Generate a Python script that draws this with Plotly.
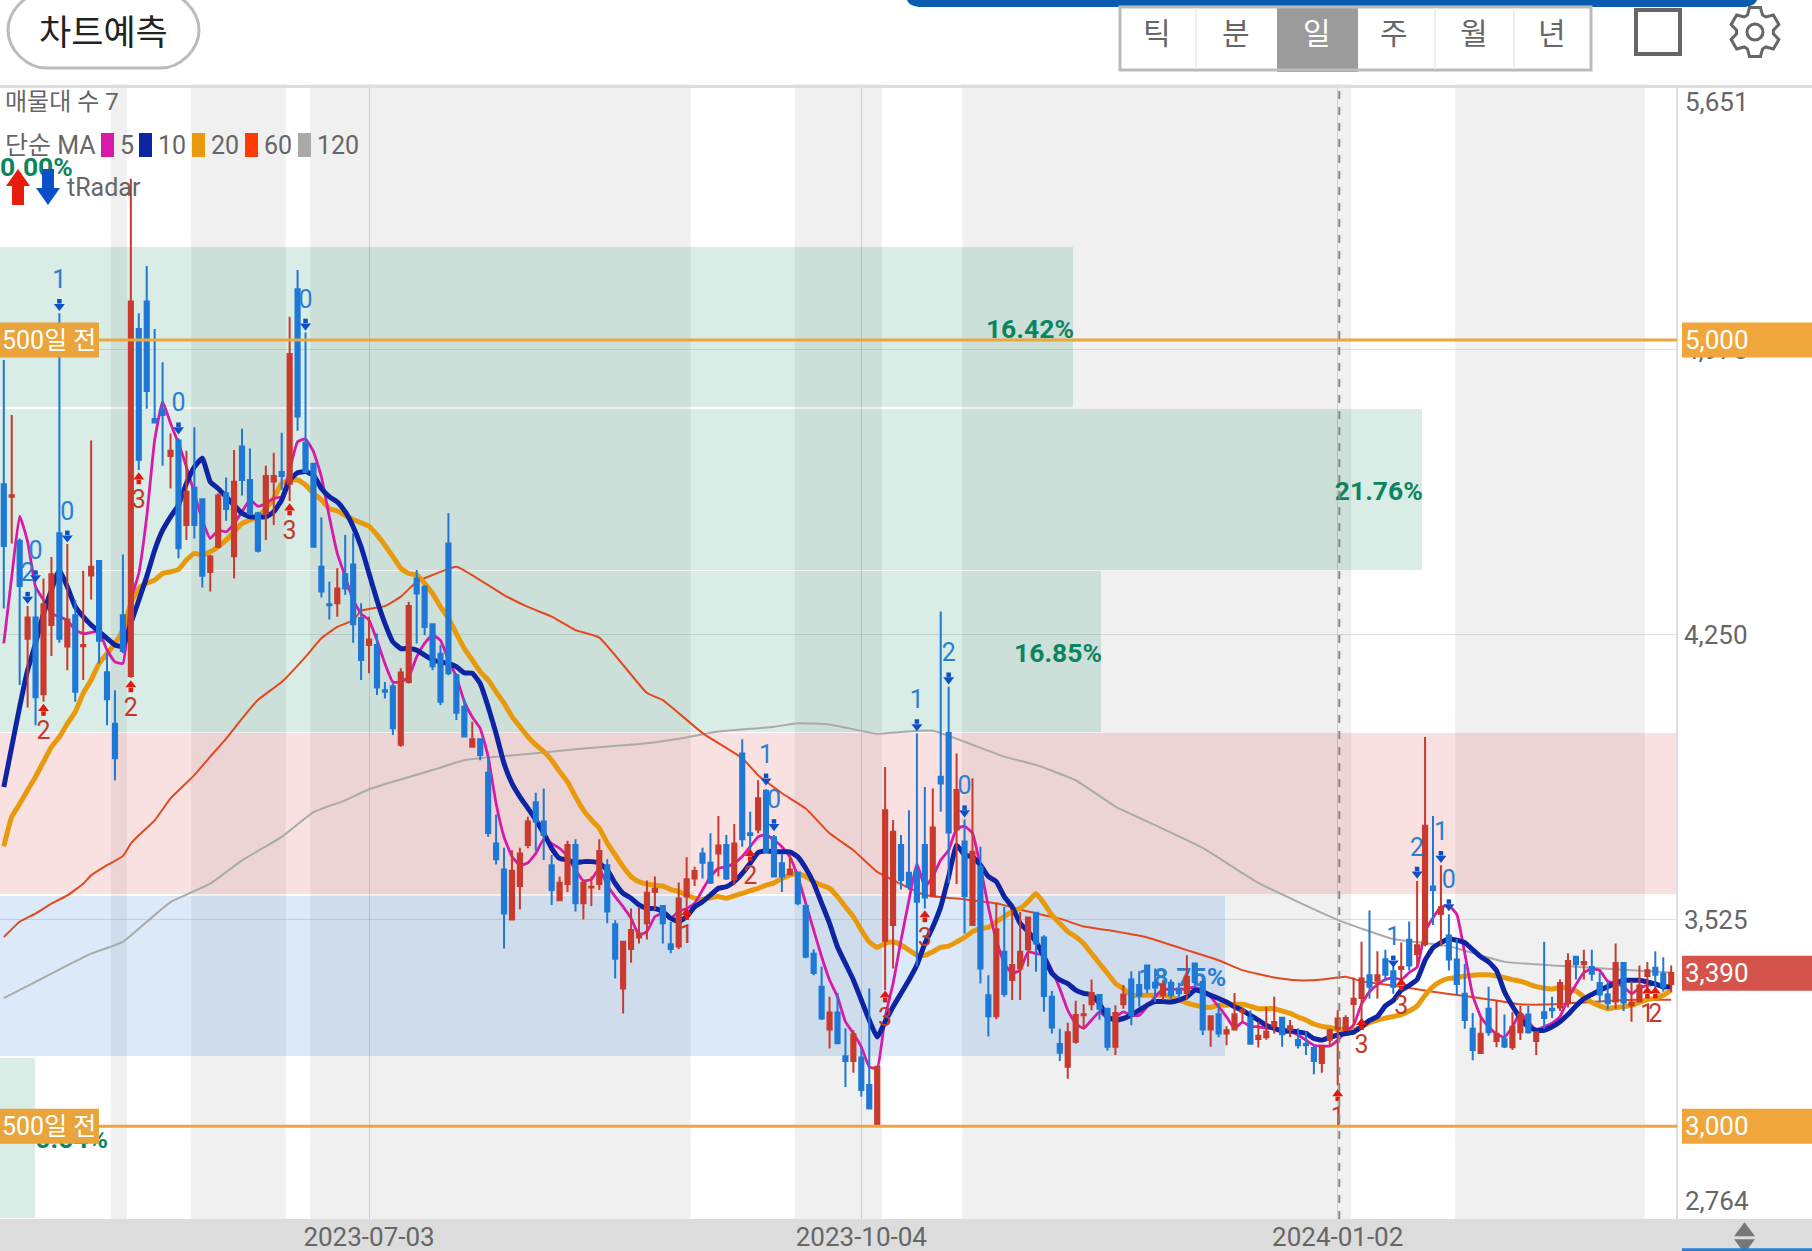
import math
import plotly.graph_objects as go

OPEN = [4633,4601,4489,4240,4294,4099,4275,4508,4220,4300,
4221,4401,4438,4155,4024,4300,4145,5028,5098,4799,
4823,4705,4744,4529,4624,4595,4410,4474,4610,4450,
4729,4644,4559,4559,4640,4664,4634,5129,4739,4685,
4423,4328,4330,4404,4429,4293,4224,4224,4109,4119,
3970,4130,4393,4372,4277,4202,4482,4147,4067,3965,
3984,3899,3719,3653,3526,3611,3715,3824,3775,3664,
3575,3616,3715,3567,3607,3616,3664,3514,3350,3451,
3480,3516,3596,3560,3463,3457,3584,3630,3694,3670,
3694,3715,3628,3948,3745,3755,3853,3735,3669,3641,
3645,3560,3439,3355,3246,3289,3178,3166,3175,3105,
3005,3472,3512,3715,3645,3652,3715,3585,3889,4000,
3755,3724,3512,3660,3333,3280,3444,3372,3401,3450,
3543,3480,3329,3209,3151,3215,3282,3310,3334,3299,
3202,3310,3373,3359,3409,3365,3333,3365,3350,3339,
3414,3367,3246,3285,3236,3246,3291,3276,3222,3226,
3254,3276,3246,3219,3209,3199,3161,3220,3248,3245,
3311,3326,3384,3370,3425,3394,3400,3474,3438,3463,
3610,3540,3485,3424,3337,3248,3186,3299,3217,3221,
3201,3239,3284,3217,3290,3299,3302,3315,3431,3412,
3405,3364,3335,3317,3415,3308,3317,3382,3403,3388,3362]
HIGH = [4949,4809,4495,4323,4372,4393,4448,5068,4481,4338,
4413,4744,4440,4203,4109,4454,5410,5068,5188,5028,
4943,4762,4750,4718,4778,4597,4453,4610,4650,4720,
4774,4724,4563,4680,4713,4764,5059,5178,5019,4686,
4549,4385,4419,4504,4508,4330,4296,4253,4130,4126,
4165,4334,4415,4376,4277,4224,4559,4152,4088,4029,
3986,3940,3793,3708,3702,3708,3787,3848,3859,3690,
3635,3726,3730,3626,3635,3730,3679,3524,3470,3554,
3558,3625,3635,3563,3520,3620,3684,3660,3708,3745,
3789,3741,3769,3984,3800,3880,3857,3741,3694,3690,
3647,3567,3450,3406,3329,3339,3249,3244,3202,3350,
3151,3914,3779,3741,3804,3999,3863,3859,4309,4118,
3948,3780,3885,3711,3384,3567,3558,3550,3545,3533,
3545,3486,3344,3248,3263,3319,3310,3373,3336,3301,
3308,3359,3394,3394,3409,3401,3371,3373,3365,3435,
3414,3373,3280,3312,3254,3339,3302,3295,3265,3304,
3329,3278,3270,3249,3240,3206,3206,3248,3295,3282,
3378,3469,3549,3445,3449,3413,3467,3521,3624,3990,
3789,3664,3539,3476,3413,3288,3279,3355,3320,3284,
3290,3306,3306,3239,3469,3329,3373,3440,3433,3449,
3449,3391,3369,3465,3418,3369,3409,3418,3445,3430,3409]
LOW = [4317,4482,4122,4065,4020,4080,4196,4230,4160,4080,
4135,4340,4177,4020,3880,4203,4141,4669,4825,4788,
4680,4622,4445,4491,4495,4370,4360,4470,4540,4393,
4604,4555,4459,4491,4529,4618,4590,4769,4661,4474,
4345,4289,4296,4351,4230,4135,4152,4097,4088,3995,
3965,4126,4228,4249,4160,4071,4147,4033,3989,3963,
3931,3736,3666,3452,3526,3551,3707,3701,3677,3563,
3575,3596,3546,3526,3560,3601,3516,3376,3287,3416,
3465,3475,3550,3465,3440,3450,3558,3611,3630,3616,
3635,3626,3613,3711,3694,3745,3694,3633,3596,3640,
3562,3427,3384,3270,3198,3211,3100,3136,3075,3045,
3005,3346,3401,3602,3601,3406,3554,3585,3800,3618,
3616,3490,3512,3363,3228,3272,3329,3321,3321,3406,
3393,3291,3236,3166,3121,3210,3248,3295,3271,3192,
3181,3299,3257,3304,3338,3316,3321,3325,3325,3321,
3354,3232,3202,3226,3206,3246,3265,3210,3200,3220,
3236,3202,3226,3198,3181,3132,3136,3202,3104,3243,
3257,3262,3324,3324,3369,3337,3369,3396,3409,3458,
3512,3458,3396,3333,3248,3168,3186,3230,3201,3199,
3194,3219,3235,3181,3248,3275,3293,3302,3373,3373,
3370,3315,3297,3299,3293,3266,3315,3346,3346,3342,3342]
CLOSE = [4476,4605,4374,4294,4091,4328,4404,4240,4289,4105,
4224,4423,4235,4086,3936,4209,5098,4695,4870,4790,
4809,4718,4470,4614,4529,4400,4449,4604,4570,4639,
4644,4559,4464,4654,4654,4654,4964,4805,4665,4474,
4360,4325,4368,4368,4277,4186,4238,4116,4105,4012,
4154,4323,4355,4270,4170,4080,4152,4052,3991,3984,
3944,3746,3679,3541,3650,3694,3775,3775,3741,3601,
3619,3715,3567,3619,3609,3700,3546,3426,3469,3499,
3490,3594,3604,3516,3451,3579,3628,3649,3670,3619,
3714,3630,3719,3730,3741,3834,3698,3635,3635,3653,
3567,3431,3390,3274,3289,3211,3166,3234,3092,3045,
3151,3804,3749,3626,3609,3571,3582,3760,3872,3747,
3855,3585,3698,3401,3280,3501,3336,3410,3444,3531,
3465,3331,3251,3187,3239,3283,3285,3339,3299,3202,
3288,3335,3282,3332,3350,3353,3359,3333,3338,3380,
3367,3246,3280,3236,3244,3285,3295,3210,3230,3240,
3265,3234,3254,3206,3206,3166,3204,3244,3274,3275,
3324,3376,3355,3384,3385,3355,3405,3409,3460,3764,
3601,3557,3424,3362,3270,3194,3235,3239,3235,3203,
3253,3284,3239,3239,3275,3295,3364,3420,3412,3418,
3388,3335,3313,3415,3315,3315,3358,3397,3385,3355,3390]

MA5 = [4228,4398,4552,4487,4372,4338,4304,4296,4287,4262,
4253,4256,4258,4211,4181,4177,4338,4406,4550,4745,
4843,4788,4737,4677,4610,4542,4495,4516,4512,4533,
4563,4593,4577,4584,4597,4601,4669,4741,4748,4716,
4652,4550,4457,4398,4338,4304,4287,4236,4177,4130,
4130,4143,4194,4228,4249,4236,4186,4143,4080,4041,
4012,3940,3821,3736,3686,3664,3670,3694,3730,3719,
3707,3686,3652,3624,3628,3656,3613,3584,3558,3529,
3486,3495,3533,3541,3529,3546,3554,3567,3601,3635,
3656,3660,3669,3686,3711,3736,3742,3728,3711,3685,
3635,3567,3499,3431,3372,3329,3266,3236,3202,3151,
3147,3278,3363,3473,3575,3668,3609,3635,3677,3702,
3757,3763,3745,3660,3558,3473,3414,3389,3397,3444,
3439,3435,3397,3350,3295,3261,3249,3270,3291,3274,
3278,3291,3282,3282,3304,3329,3348,3348,3348,3350,
3354,3346,3329,3304,3278,3249,3265,3254,3253,3249,
3249,3237,3240,3232,3219,3206,3204,3204,3219,3240,
3257,3311,3342,3360,3373,3378,3373,3391,3405,3494,
3530,3557,3561,3539,3440,3333,3279,3253,3235,3226,
3253,3288,3266,3245,3253,3262,3279,3324,3360,3391,
3400,3396,3369,3364,3355,3337,3351,3358,3360,3351,3355]
MA10 = [3863,3965,4067,4160,4228,4304,4364,4415,4372,4321,
4296,4275,4258,4241,4224,4220,4279,4338,4398,4465,
4516,4550,4580,4635,4677,4699,4639,4622,4601,4580,
4559,4550,4550,4550,4563,4593,4643,4662,4665,4656,
4622,4601,4588,4563,4525,4474,4406,4338,4279,4232,
4215,4215,4211,4198,4186,4181,4177,4169,4153,4152,
4126,4067,3999,3923,3872,3838,3809,3779,3745,3707,
3681,3677,3670,3673,3673,3669,3652,3618,3592,3580,
3563,3554,3554,3546,3529,3520,3533,3558,3571,3588,
3605,3609,3622,3643,3669,3696,3701,3698,3698,3698,
3685,3656,3618,3567,3516,3456,3414,3372,3321,3270,
3227,3266,3304,3338,3372,3410,3465,3507,3558,3635,
3715,3690,3685,3664,3635,3622,3584,3558,3516,3495,
3469,3431,3389,3372,3363,3346,3338,3334,3312,3278,
3270,3274,3283,3295,3308,3317,3317,3316,3321,3329,
3346,3342,3333,3325,3316,3304,3295,3282,3270,3257,
3249,3243,3243,3240,3236,3223,3219,3226,3232,3236,
3239,3253,3269,3279,3306,3320,3346,3358,3373,3422,
3454,3467,3476,3473,3467,3449,3431,3418,3396,3342,
3306,3275,3253,3244,3244,3253,3266,3284,3306,3324,
3335,3346,3355,3364,3371,3371,3371,3367,3362,3355,3355]
MA20 = [3712,3787,3820,3855,3889,3927,3965,3990,4024,4054,
4101,4135,4177,4202,4228,4262,4330,4368,4381,4389,
4406,4410,4416,4440,4457,4453,4461,4474,4491,4512,
4533,4542,4550,4571,4597,4635,4642,4644,4631,4610,
4593,4571,4565,4554,4543,4535,4526,4504,4478,4449,
4419,4406,4402,4381,4355,4321,4292,4253,4215,4186,
4156,4135,4105,4076,4042,4016,3991,3970,3953,3931,
3902,3876,3838,3804,3779,3758,3720,3690,3660,3635,
3622,3616,3613,3611,3602,3597,3588,3580,3577,3581,
3584,3580,3586,3592,3599,3605,3613,3619,3630,3639,
3643,3635,3622,3613,3605,3584,3558,3533,3499,3469,
3455,3465,3469,3461,3448,3435,3435,3444,3455,3458,
3469,3480,3495,3503,3506,3520,3533,3546,3554,3571,
3592,3567,3537,3516,3495,3482,3465,3439,3414,3389,
3363,3350,3333,3333,3333,3333,3333,3329,3321,3314,
3308,3304,3302,3308,3308,3310,3310,3305,3299,3299,
3299,3293,3287,3278,3270,3260,3254,3251,3246,3248,
3245,3253,3263,3270,3275,3279,3284,3293,3306,3333,
3355,3369,3376,3378,3382,3384,3385,3385,3382,3378,
3373,3369,3362,3355,3351,3349,3353,3351,3344,3329,
3315,3306,3299,3302,3304,3308,3315,3322,3326,3333,3346]

MA60_I = [0,2,4,6,8,10,11,13,15,16,17,19,21,24,26,28,30,32,35,38,40,42,44,45,48,50,52,54,57,60,63,66,69,72,75,81,83,88,93,95,98,101,104,107,110,112,116,121,125,129,133,136,139,144,147,149,153,156,160,163,166,169,171,176,180,184,188,191,195,199,203,206,210]
MA60_V = [3481,3520,3541,3566,3587,3617,3638,3664,3687,3719,3740,3778,3834,3893,3940,3986,4037,4084,4130,4194,4241,4270,4287,4311,4323,4347,4385,4402,4423,4389,4351,4321,4296,4262,4243,4102,4084,4000,3936,3893,3847,3808,3745,3702,3647,3626,3588,3577,3567,3546,3528,3508,3499,3480,3461,3448,3422,3397,3378,3371,3373,3380,3369,3355,3342,3331,3320,3310,3310,3315,3320,3322,3322]
MA120_I = [0,4,8,11,15,18,21,26,30,35,39,43,46,50,54,58,61,66,73,80,86,90,97,100,104,110,113,117,121,126,130,135,140,145,151,158,168,175,182,189,195,200,205,210]
MA120_V = [3326,3367,3409,3439,3469,3520,3570,3617,3676,3736,3799,3829,3857,3882,3906,3931,3938,3947,3961,3972,3989,4004,4016,4025,4022,3998,4003,4006,3978,3940,3919,3880,3813,3766,3708,3619,3525,3476,3458,3418,3409,3403,3397,3391]

VOL_PCT = [0.54,18.75,25.67,16.85,21.76,16.42,0.00]
VOL_MID = [2970.2,3382.7,3795.1,4207.5,4619.9,5032.4,5444.8]
VOL_TXT = ["0.54%","18.75%","25.67%","16.85%","21.76%","16.42%","0.00%"]

SIG_DN_I = [7,8,3,4,22,38,96,97,115,119,121,178,181,182,175]
SIG_DN_P = [5092,4503,4347,4402,4778,5042,3885,3769,4023,4142,3804,3648,3688,3565,3422]
SIG_DN_T = ["1","0","2","0","0","0","1","0","1","2","0","2","1","0","1"]
SIG_UP_I = [5,16,17,36,86,94,111,116,168,171,176,207,208]
SIG_UP_P = [4056,4116,4645,4566,3537,3687,3327,3531,3076,3257,3358,3337,3337]
SIG_UP_T = ["2","2","3","3","1","2","3","3","1","3","3","1","2"]

TICK_I = [46,108,168]
TICK_TXT = ["2023-07-03","2023-10-04","2024-01-02"]
GRID_P = [3525,4250,4975]
GRID_TXT = ["3,525","4,250","4,975"]
GRAY_BANDS = [(13.5,15.5),(23.6,35.5),(38.6,86.5),(99.6,110.6),(120.7,169.7),(182.8,206.7)]

W, H = 1812, 1251
PW, TOP, BOT = 1677, 84, 1218.7
YMIN, YMAX = 2764, 5651
FONT = "Roboto, 'Noto Sans CJK KR', sans-serif"
KFONT = "'Noto Sans CJK KR', Roboto, sans-serif"
GREY = "#666666"

def fx(x): return x / PW
def fy(y): return (BOT - y) / (BOT - TOP)
def pt(x, y): return f"{fx(x):.5f},{fy(y):.5f}"

shapes, ann = [], []
def rect(x0, y0, x1, y1, fill, line=None, lw=0, layer="above"):
    shapes.append(dict(type="rect", xref="paper", yref="paper", x0=fx(x0), x1=fx(x1), y0=fy(y0), y1=fy(y1),
                       fillcolor=fill, line=dict(color=line or fill, width=lw), layer=layer))
def path(d, fill="rgba(0,0,0,0)", line=None, lw=0, layer="above"):
    shapes.append(dict(type="path", xref="paper", yref="paper", path=d, fillcolor=fill,
                       line=dict(color=line or "rgba(0,0,0,0)", width=lw), layer=layer))
def text(x, y, s, size=25, color=GREY, anchor="left", family=FONT, weight=None):
    f = dict(family=family, size=size, color=color)
    if weight: f["weight"] = weight
    ann.append(dict(xref="paper", yref="paper", x=fx(x), y=fy(y), text=s, showarrow=False,
                    xanchor=anchor, yanchor="middle", font=f, borderpad=0))
def arrow(cx, y0, y1, hw, sw, hl, color):
    d = 1 if y1 > y0 else -1
    pts = [(cx-sw,y0),(cx+sw,y0),(cx+sw,y1-d*hl),(cx+hw,y1-d*hl),(cx,y1),(cx-hw,y1-d*hl),(cx-sw,y1-d*hl)]
    path("M" + " L".join(pt(*p) for p in pts) + " Z", fill=color)

# period bands
for a, b in GRAY_BANDS:
    shapes.append(dict(type="rect", xref="x3", yref="paper", x0=a, x1=b, y0=0, y1=1,
                       fillcolor="#f0f0f0", line=dict(width=0), layer="below"))
# bottom strip, frame lines
rect(0, BOT, W, H+2, "#dcdcdc", layer="below")
rect(0, 85, W, 88, "#dddddd")
rect(1676, 86, 1678, BOT, "#dddddd")

# horizontal levels and dashed cursor
for lvl in (5000, 3000):
    shapes.append(dict(type="line", xref="paper", yref="y", x0=0, x1=1, y0=lvl, y1=lvl,
                       line=dict(color="#eba63c", width=3), layer="above"))
shapes.append(dict(type="line", xref="x3", yref="paper", x0=168.2, x1=168.2, y0=0, y1=1,
                   line=dict(color="#8a8a8a", width=2, dash="8px,8px"), layer="above"))

# tags
for yc in (340, 1126):
    rect(0, yc-17.5, 99, yc+17.5, "#e9a43c")
    text(1, yc, "500일 전", size=25, color="white")
for yc, s, c in ((340, "5,000", "#f0a63b"), (1126, "3,000", "#f0a63b"), (973, "3,390", "#d4534a")):
    rect(1682, yc-17.5, W+2, yc+17.5, c)
    text(1684, yc, s, size=26, color="white")
text(1684, 102, "5,651", size=26)
text(1684, 1201, "2,764", size=26)

# legend rows
text(4, 102, "매물대 수 7", size=24)
text(4, 145, "단순 MA", size=25)
for x0, col, lab in ((101,"#d91aa8","5"),(139,"#0d25a3","10"),(192,"#e89a0c","20"),(245,"#ff3a00","60"),(298,"#a9a9a9","120")):
    rect(x0, 133, x0+13, 157, col)
    text(x0+18, 145, lab, size=25)
arrow(18, 205, 169, 12, 6, 17, "#e81c0c")
arrow(48, 169, 205, 12, 6, 17, "#0a50c8")
text(66, 187, "tRadar", size=25)

# header
r = 38
path(f"M{pt(8+r,-8)} L{pt(199-r,-8)} C{pt(199-r/2,-8)} {pt(199,10)} {pt(199,30)} C{pt(199,50)} {pt(199-r/2,68)} {pt(199-r,68)} "
     f"L{pt(8+r,68)} C{pt(8+r/2,68)} {pt(8,50)} {pt(8,30)} C{pt(8,10)} {pt(8+r/2,-8)} {pt(8+r,-8)} Z",
     fill="white", line="#bbbbbb", lw=3)
text(103.5, 30, "차트예측", size=35, color="#222222", anchor="center", family=KFONT)
path(f"M{pt(907,-5)} L{pt(1757,-5)} L{pt(1757,0)} C{pt(1755,5)} {pt(1750,7)} {pt(1742,7)} L{pt(922,7)} C{pt(914,7)} {pt(909,5)} {pt(907,0)} Z",
     fill="#0a5cb0")
rect(1277, 7, 1358, 72, "#9b9b9b")
rect(1120, 7, 1591, 70, "rgba(0,0,0,0)", line="#bbbbbb", lw=3)
for x in (1196, 1435, 1514):
    rect(x-1, 8, x+1, 69, "#eeeeee")
for x, s, c in ((1157,"틱",GREY),(1236,"분",GREY),(1317,"일","white"),(1394,"주",GREY),(1474,"월",GREY),(1552,"년",GREY)):
    text(x, 31, s, size=30, color=c, anchor="center", family=KFONT)
rect(1636, 10, 1680, 54, "rgba(0,0,0,0)", line="#666666", lw=4)
# gear icon
gx, gy, R1, R2 = 1755, 32, 25, 18.5
pts = []
for k in range(6):
    a = k * math.pi / 3 - math.pi / 2
    for da, rad in ((-0.42, R2), (-0.22, R1), (0.22, R1), (0.42, R2)):
        pts.append((gx + rad * math.cos(a + da), gy + rad * math.sin(a + da)))
path("M" + " L".join(pt(*p) for p in pts) + " Z", line="#666666", lw=3)
shapes.append(dict(type="circle", xref="paper", yref="paper", x0=fx(gx-8), x1=fx(gx+8), y0=fy(gy+8), y1=fy(gy-8),
                   line=dict(color="#666666", width=3)))
# corner handle
path(f"M{pt(1734,1236)} L{pt(1755,1236)} L{pt(1744.5,1222)} Z", fill="#777777")
path(f"M{pt(1734,1239)} L{pt(1755,1239)} L{pt(1744.5,1253)} Z", fill="#777777")
rect(1682, 1248, W+2, 1253, "#2a7fd4")

XR = [(0-3.8)/7.94, (PW-3.8)/7.94]
idx = list(range(len(OPEN)))
fig = go.Figure()

def vol_color(v):
    return ("rgba(209,20,20,0.13)" if 3589 < v < 4001 else
            "rgba(15,108,208,0.15)" if 3176 < v < 3589 else "rgba(0,127,82,0.15)")
def vol_text_color(v):
    return "#c9372c" if 3589 < v < 4001 else "#2a7fd4" if 3176 < v < 3589 else "#0b8560"

fig.add_trace(go.Bar(y=VOL_MID, x=VOL_PCT, orientation="h", width=408, xaxis="x", yaxis="y",
                     marker=dict(color=[vol_color(v) for v in VOL_MID], line=dict(width=0)), hoverinfo="skip"))
# percentage labels sit at the end of each bar, under the candles
for keep, pos in ((lambda p: p >= 1, "middle left"), (lambda p: p < 1, "middle right")):
    sel = [k for k, p in enumerate(VOL_PCT) if keep(p)]
    fig.add_trace(go.Scatter(x=[VOL_PCT[k] + (0.02 if pos == "middle left" else 0) for k in sel],
                             y=[VOL_MID[k] - 10 for k in sel], text=[VOL_TXT[k] for k in sel],
                             mode="text", textposition=pos, xaxis="x", yaxis="y", cliponaxis=False,
                             textfont=dict(family=FONT, size=26.5, weight=700, color=[vol_text_color(VOL_MID[k]) for k in sel]),
                             hoverinfo="skip"))
for name, xs, ys, col, w in (("120", MA120_I, MA120_V, "#aaaaaa", 2), ("60", MA60_I, MA60_V, "#e2491e", 2),
                             ("20", idx, MA20, "#e89a0c", 5), ("5", idx, MA5, "#d91aa8", 2.8), ("10", idx, MA10, "#0d25a3", 5)):
    fig.add_trace(go.Scatter(x=xs, y=ys, mode="lines", name=name, xaxis="x2", yaxis="y",
                             line=dict(color=col, width=w, shape="spline", smoothing=0.4), hoverinfo="skip"))
fig.add_trace(go.Candlestick(x=idx, open=OPEN, high=HIGH, low=LOW, close=CLOSE, xaxis="x3", yaxis="y", whiskerwidth=0,
                             increasing=dict(line=dict(color="#c93a2e", width=2), fillcolor="#c93a2e"),
                             decreasing=dict(line=dict(color="#1f78d6", width=2), fillcolor="#1f78d6")))
# signal arrows: stem + head, digit beyond the arrow
U = 2.5445  # price units per pixel on this axis
def signal(xs, ps, ts, sign, col, txtcol):
    fig.add_trace(go.Scatter(x=xs, y=[p + sign * 2.5 * U for p in ps], mode="markers", xaxis="x3", yaxis="y", hoverinfo="skip",
                             marker=dict(symbol="square", size=4.5, color=col, line=dict(width=0))))
    fig.add_trace(go.Scatter(x=xs, y=[p - sign * 2.5 * U for p in ps], mode="markers", xaxis="x3", yaxis="y", hoverinfo="skip",
                             marker=dict(symbol="triangle-up" if sign < 0 else "triangle-down", size=9.5, color=col, line=dict(width=0))))
    fig.add_trace(go.Scatter(x=xs, y=[p + sign * 22 * U for p in ps], text=ts, mode="text", textposition="middle center",
                             xaxis="x3", yaxis="y", hoverinfo="skip", cliponaxis=False,
                             textfont=dict(family=FONT, size=25, color=txtcol)))
signal(SIG_DN_I, SIG_DN_P, SIG_DN_T, 1, "#0a50c8", "#2a7fd4")
signal(SIG_UP_I, SIG_UP_P, SIG_UP_T, -1, "#e01a0c", "#c0392b")

fig.update_layout(
    width=W, height=H, autosize=False, showlegend=False, boxgap=0.25, bargap=0, plot_bgcolor="white", paper_bgcolor="white",
    margin=dict(l=0, r=W-PW, t=TOP, b=H-BOT, pad=0), font=dict(family=FONT, color=GREY),
    xaxis=dict(range=[0, 25.67], visible=False, fixedrange=True),
    xaxis2=dict(range=XR, overlaying="x", visible=False, anchor="y"),
    xaxis3=dict(range=XR, overlaying="x", anchor="y", side="bottom", tickmode="array", tickvals=TICK_I, ticktext=TICK_TXT,
                showgrid=True, gridcolor="rgba(120,120,120,0.28)", gridwidth=1, ticks="", zeroline=False, showline=False,
                tickfont=dict(family=FONT, size=26, color=GREY), rangeslider=dict(visible=False)),
    yaxis=dict(range=[YMIN, YMAX], side="right", anchor="x", tickmode="array", tickvals=GRID_P, ticktext=GRID_TXT,
               showgrid=True, gridcolor="rgba(120,120,120,0.22)", gridwidth=1, zeroline=False, showline=False, ticks="",
               ticklabelstandoff=6, tickfont=dict(family=FONT, size=26, color=GREY)),
    shapes=shapes, annotations=ann,
)
fig.write_html("out.html", config=dict(displayModeBar=False),
               post_script="document.body.style.margin='0';document.body.style.overflow='hidden';")
